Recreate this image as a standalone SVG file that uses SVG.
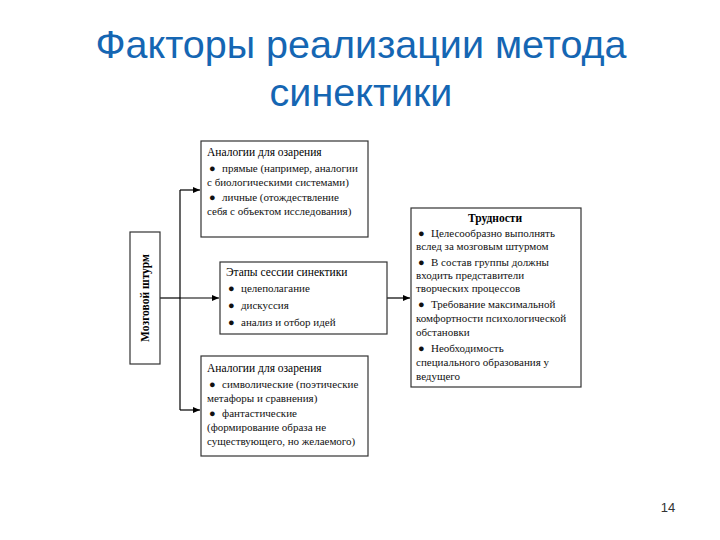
<svg xmlns="http://www.w3.org/2000/svg" width="720" height="540" viewBox="0 0 720 540">
<defs>
<marker id="arr" markerWidth="8" markerHeight="8" refX="7" refY="4" orient="auto" markerUnits="userSpaceOnUse">
<path d="M0,1 L7,4 L0,7 Z" fill="#000"/>
</marker>
<style>
.box{fill:#fff;stroke:#333;stroke-width:1.2}
.t{font-family:"Liberation Serif",serif;font-size:11px;fill:#111}
.h{font-family:"Liberation Serif",serif;font-size:11.5px;fill:#000}
.title{font-family:"Liberation Sans",Arial,sans-serif;font-size:39.5px;fill:#1566b3;text-anchor:middle}
.c{fill:none;stroke:#000;stroke-width:1.2}
</style>
</defs>
<rect width="720" height="540" fill="#fff"/>
<text class="title" x="361" y="58">Факторы реализации метода</text>
<text class="title" x="361" y="106">синектики</text>

<g id="connectors">
<line class="c" x1="160" y1="298" x2="180" y2="298"/>
<line class="c" x1="180" y1="190" x2="180" y2="410"/>
<line class="c" x1="180" y1="190" x2="200" y2="190" marker-end="url(#arr)"/>
<line class="c" x1="180" y1="298" x2="219" y2="298" marker-end="url(#arr)"/>
<line class="c" x1="180" y1="410" x2="200" y2="410" marker-end="url(#arr)"/>
<line class="c" x1="387" y1="298" x2="410" y2="298" marker-end="url(#arr)"/>
</g>

<g id="brainstorm">
<rect class="box" x="130" y="232" width="30" height="132"/>
<text class="h" transform="translate(149,298) rotate(-90)" text-anchor="middle" font-weight="bold">Мозговой штурм</text>
</g>

<g id="analogies1">
<rect class="box" x="201" y="141" width="167" height="96"/>
<text class="h" x="207" y="156">Аналогии для озарения</text>
<text class="t" x="209" y="172">●</text><text class="t" x="222" y="172">прямые (например, аналогии</text>
<text class="t" x="207" y="186">с биологическими системами)</text>
<text class="t" x="209" y="201">●</text><text class="t" x="222" y="201">личные (отождествление</text>
<text class="t" x="207" y="215">себя с объектом исследования)</text>
</g>

<g id="stages">
<rect class="box" x="220" y="262" width="167" height="72"/>
<text class="h" x="226" y="276">Этапы сессии синектики</text>
<text class="t" x="228" y="292">●</text><text class="t" x="241" y="292">целеполагание</text>
<text class="t" x="228" y="309">●</text><text class="t" x="241" y="309">дискуссия</text>
<text class="t" x="228" y="326">●</text><text class="t" x="241" y="326">анализ и отбор идей</text>
</g>

<g id="analogies2">
<rect class="box" x="201" y="356" width="167" height="100"/>
<text class="h" x="207" y="372">Аналогии для озарения</text>
<text class="t" x="209" y="388">●</text><text class="t" x="222" y="388">символические (поэтические</text>
<text class="t" x="207" y="402">метафоры и сравнения)</text>
<text class="t" x="209" y="417">●</text><text class="t" x="222" y="417">фантастические</text>
<text class="t" x="207" y="431">(формирование образа не</text>
<text class="t" x="207" y="445">существующего, но желаемого)</text>
</g>

<g id="difficulties">
<rect class="box" x="411" y="208" width="170" height="179"/>
<text class="h" x="495" y="222" text-anchor="middle" font-weight="bold">Трудности</text>
<text class="t" x="418" y="237">●</text><text class="t" x="431" y="237">Целесообразно выполнять</text>
<text class="t" x="416" y="250">вслед за мозговым штурмом</text>
<text class="t" x="418" y="266">●</text><text class="t" x="431" y="266">В состав группы должны</text>
<text class="t" x="416" y="279">входить представители</text>
<text class="t" x="416" y="292">творческих процессов</text>
<text class="t" x="418" y="308">●</text><text class="t" x="431" y="308">Требование максимальной</text>
<text class="t" x="416" y="322">комфортности психологической</text>
<text class="t" x="416" y="336">обстановки</text>
<text class="t" x="418" y="352">●</text><text class="t" x="431" y="352">Необходимость</text>
<text class="t" x="416" y="366">специального образования у</text>
<text class="t" x="416" y="380">ведущего</text>
</g>

<text x="668" y="512" font-family="Liberation Sans,Arial,sans-serif" font-size="13" fill="#333" text-anchor="middle">14</text>
</svg>
